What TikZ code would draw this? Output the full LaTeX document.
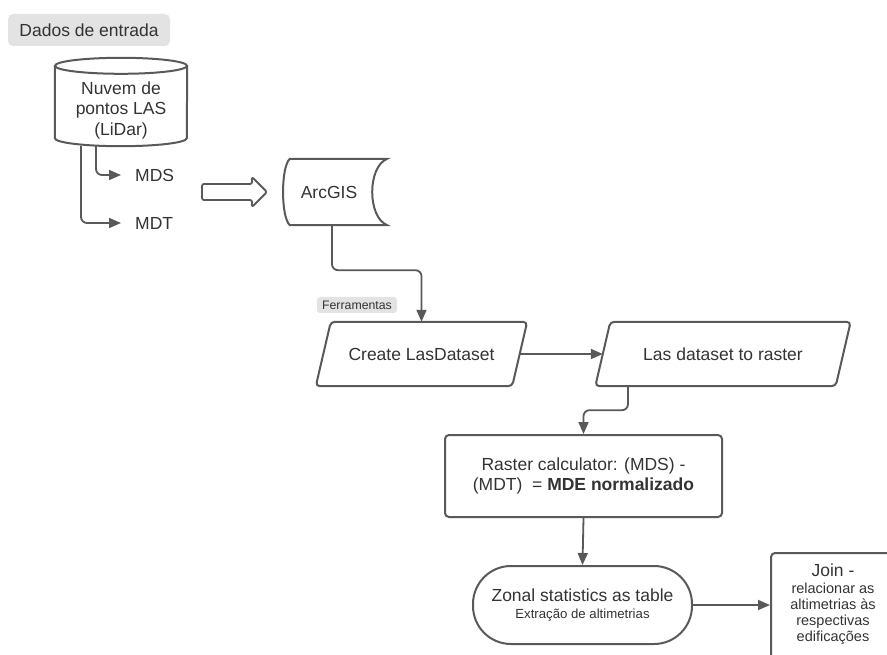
\documentclass[tikz,border=0pt]{standalone}
\usepackage{fontspec}
\setmainfont{Liberation Sans}
\usetikzlibrary{calc,arrows.meta}
\definecolor{linegray}{HTML}{595959}
\definecolor{textgray}{HTML}{333333}
\definecolor{taggray}{HTML}{E3E3E3}

\begin{document}
\begin{tikzpicture}[x=1pt,y=-1pt,
    every node/.style={text=textgray,font=\fontsize{17.5}{20.5}\selectfont},
    link/.style={line width=1.8pt,draw=linegray,-{Triangle[length=12pt,width=10pt]}},
    shapeline/.style={line width=2pt,draw=linegray},
    tagbox/.style={fill=taggray,rounded corners=5pt},
    procbox/.style={shapeline,rounded corners=4pt},
    iobox/.style={minimum height=64pt},
    outtext/.style={anchor=west,inner xsep=14pt,inner ysep=0pt}]
    \useasboundingbox (0,0) rectangle (887,655);
    \clip (0,0) rectangle (887,655);

    % dados de entrada
    \node[tagbox,minimum width=162pt,minimum height=32pt] (dados) at (89,30) {Dados de entrada};

    \node[minimum width=132pt,minimum height=72pt,align=center,inner sep=0pt] (nuvem) at (121,110) {Nuvem de\\pontos LAS\\(LiDar)};
    \draw[shapeline] ([yshift=8pt]nuvem.north west) -- ([yshift=8pt]nuvem.south west)
        arc[start angle=180,end angle=360,x radius=66pt,y radius=8pt] -- ([yshift=8pt]nuvem.north east);
    \draw[shapeline] ([yshift=8pt]nuvem.north) ellipse[x radius=66pt,y radius=8pt];

    \node[outtext] (mds) at (121,175) {MDS};
    \node[outtext] (mdt) at (121,223) {MDT};
    \draw[link,rounded corners=6pt] ([xshift=-25pt]nuvem.south) |- (mds.west);
    \draw[link,rounded corners=6pt] ([xshift=-40pt]nuvem.south) |- (mdt.west);

    % seta grande
    \draw[shapeline,line width=1.8pt,rounded corners=2pt] (202,184) -- (252,184) -- (252,177) -- (267,192)
        -- (252,207) -- (252,200) -- (202,200) -- cycle;

    \node[minimum width=90pt,minimum height=66pt] (arcgis) at (329,192) {ArcGIS};
    \draw[shapeline] ([xshift=6pt]arcgis.north west) -- ([xshift=13pt]arcgis.north east)
        .. controls +(-20,8) and +(-20,-8) .. ([xshift=13pt]arcgis.south east)
        -- ([xshift=6pt]arcgis.south west)
        .. controls +(-9,-8) and +(-9,8) .. ([xshift=6pt]arcgis.north west) -- cycle;

    % ferramentas
    \node[tagbox,rounded corners=3pt,minimum width=80pt,minimum height=16pt,inner sep=0pt,
        font=\fontsize{12.3}{14}\selectfont] (ferramentas) at (357,305) {Ferramentas};

    \node[iobox,minimum width=196pt] (create) at (421.5,354) {Create LasDataset};
    \node[iobox,minimum width=240pt] (lasraster) at (723,354) {Las dataset to raster};
    \foreach \n in {create,lasraster}
        \draw[shapeline,rounded corners=4pt] ($(\n.north west)+(7.5,0)$) -- ($(\n.north east)+(7.5,0)$)
            -- ($(\n.south east)+(-7.5,0)$) -- ($(\n.south west)+(-7.5,0)$) -- cycle;

    \draw[link,rounded corners=6pt] ([xshift=3pt]arcgis.south) -- ++(0,45) -| (create.north);
    \draw[link] (create.east) -- (lasraster.west);

    \node[procbox,minimum width=277pt,minimum height=82pt,align=center] (raster) at (583.5,476)
        {Raster calculator: (MDS) -\\(MDT)\ \ = \textbf{MDE normalizado}};
    \draw[link,rounded corners=6pt] ([xshift=-95pt]lasraster.south) -- ++(0,24) -| (raster.north);

    \node[shapeline,rounded corners=38pt,minimum width=219pt,minimum height=78pt,align=center] (zonal) at (582.5,605)
        {Zonal statistics as table\\[-3pt]{\fontsize{13.2}{15}\selectfont Extração de altimetrias}};
    \draw[link] (raster.south) -- (zonal.north);

    % join
    \node[procbox,minimum width=126pt,minimum height=150pt,anchor=north west] (join) at (770,552) {};
    \node[inner sep=0pt] (jointitle) at (833,570) {Join -};
    \node[anchor=north,align=center,inner sep=0pt,font=\fontsize{14.5}{16}\selectfont] (joindesc) at (833,583)
        {relacionar as\\altimetrias às\\respectivas\\edificações};
    \draw[link] (zonal.east) -- (zonal.east -| join.west);
\end{tikzpicture}
\end{document}
